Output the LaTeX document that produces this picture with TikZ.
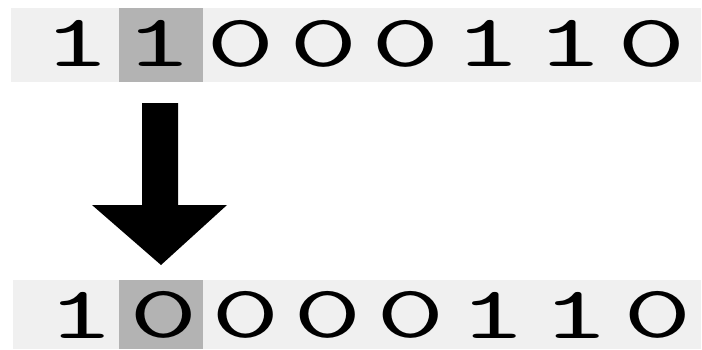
\documentclass[tikz,border=0pt]{standalone}
\usepackage{fontspec}
\definecolor{barbg}{HTML}{F0F0F0}
\definecolor{hilite}{HTML}{B3B3B3}
\tikzset{
  digit/.style={inner sep=0pt, font=\ttfamily\fontsize{74}{74}\selectfont, xscale=1.8},
  bar/.style={fill=barbg, draw=none},
  hl/.style={fill=hilite, draw=none}
}
\begin{document}
\begin{tikzpicture}[x=1pt,y=-1pt]
\useasboundingbox (0,0) rectangle (702,349);
\fill[white] (0,0) rectangle (702,349);
% top bar
\path[bar] (11,8) rectangle (701,82);
\path[hl] (119,8) rectangle (203,82);
% bottom bar
\path[bar] (13,280) rectangle (701,349);
\path[hl] (119,280) rectangle (203,349);
% top digits
\foreach \d [count=\i from 0] in {1,1,0,0,0,1,1,0} {
  \node[digit] (t\i) at ({77+82.1*\i},43.5) {\d};
}
% bottom digits
\foreach \d [count=\i from 0] in {1,0,0,0,0,1,1,0} {
  \node[digit] (b\i) at ({81+82.4*\i},315) {\d};
}
% arrow
\fill[black] (142,103) -- (178,103) -- (178,205) -- (227,205) -- (161,265) -- (92,205) -- (142,205) -- cycle;
\end{tikzpicture}
\end{document}
